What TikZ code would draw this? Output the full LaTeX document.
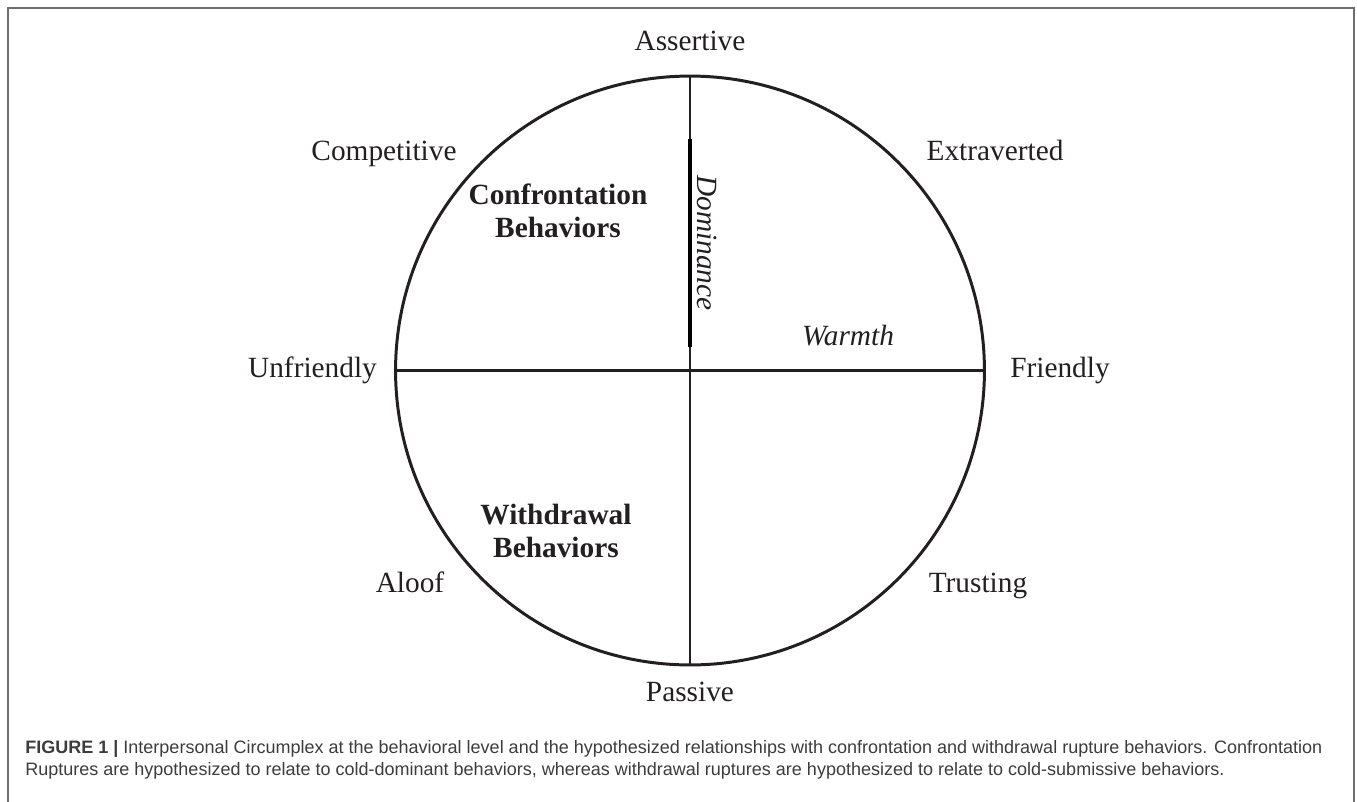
\documentclass[tikz,border=0pt]{standalone}
\usepackage{fontspec}
\setmainfont{Liberation Serif}
\newfontfamily\capfont{Liberation Sans}
\usepackage{xcolor}
\definecolor{ink}{HTML}{231F20}
\definecolor{capgray}{HTML}{3C3C3C}
\definecolor{framegray}{HTML}{6E6E6E}

\begin{document}
\begin{tikzpicture}[x=0.02cm, y=-0.02cm,
  pole/.style={font=\fontsize{16.7}{20}\selectfont, text=ink, inner sep=0pt, anchor=base},
  region/.style={font=\fontsize{16.7}{18.7}\selectfont\bfseries, text=ink, inner sep=0pt, align=center, anchor=base},
  axisname/.style={font=\fontsize{16.7}{20}\selectfont\itshape, text=ink, inner sep=0pt, anchor=base},
  axis/.style={draw=ink, line width=1.7pt}]
\useasboundingbox (0,0) rectangle (1357,802);
\draw [framegray, line width=0.8pt] (8,830) -- (8,8) -- (1354,8) -- (1354,830);

\node (C) at (690,370.5) [circle, draw=ink, line width=1.7pt, minimum size=11.78cm, inner sep=0pt] {};
\draw [axis] (C.north) -- (C.south);
\draw [axis] (C.west) -- (C.east);

\coordinate (D1) at (690,139);
\coordinate (D2) at (690,347);
\draw [black, line width=2.8pt] (D1) -- (D2);

\node (N) at (690,50) [pole] {Assertive};
\node (S) at (690,701) [pole] {Passive};
\node (W) at (312.5,377) [pole] {Unfriendly};
\node (E) at (1060,377) [pole] {Friendly};
\node (NW) at (384,160) [pole] {Competitive};
\node (NE) at (995,160) [pole] {Extraverted};
\node (SW) at (410,592) [pole] {Aloof};
\node (SE) at (978,592) [pole] {Trusting};

% base anchor sits on the last line
\node (CB) at (558,237) [region] {Confrontation\\Behaviors};
\node (WB) at (556,557) [region] {Withdrawal\\Behaviors};

\node (dom) at (697,243) [axisname, rotate=-90] {Dominance};
\node (warm) at (848,345) [axisname] {Warmth};

\node (cap) at (25,775) [anchor=base west, inner sep=0pt, align=left, text=capgray,
  font=\capfont\fontsize{10.25}{12.5}\selectfont]
  {\textbf{FIGURE 1 |} Interpersonal Circumplex at the behavioral level and the hypothesized relationships with confrontation and withdrawal rupture behaviors. Confrontation\\
   Ruptures are hypothesized to relate to cold-dominant behaviors, whereas withdrawal ruptures are hypothesized to relate to cold-submissive behaviors.};
\end{tikzpicture}
\end{document}
